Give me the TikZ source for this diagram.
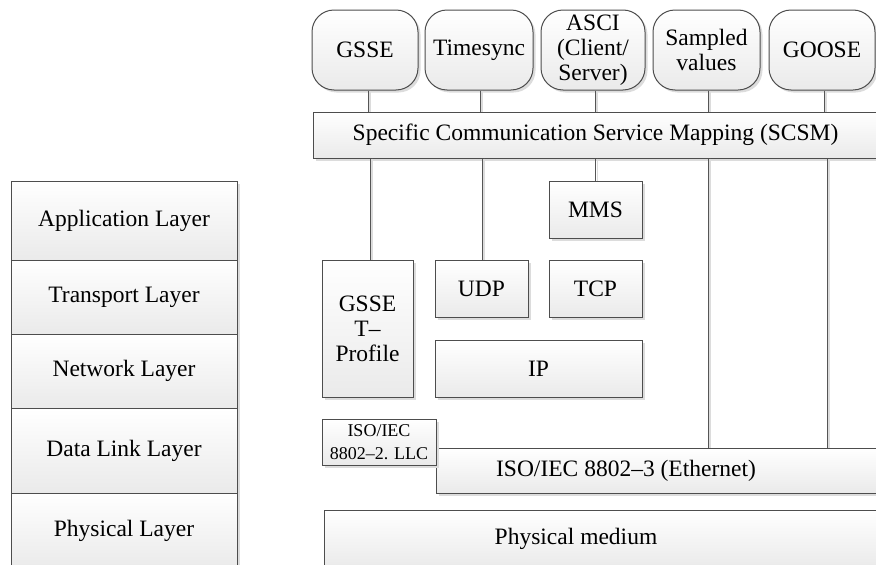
\documentclass[tikz,border=0pt]{standalone}
\usepackage{fontspec}
\setmainfont{Liberation Serif}
\usetikzlibrary{shadows}

\definecolor{linegray}{HTML}{4D4D4D}
\definecolor{linkgray}{HTML}{555555}
\definecolor{fillgray}{HTML}{EAEAEA}
\definecolor{shadowgray}{HTML}{DCDCDC}

\newcommand\txtmain{\fontsize{23.5}{25}\selectfont}
\newcommand\txtsmall{\fontsize{18}{22.5}\selectfont}

\tikzset{
  base/.style={draw=linegray, line width=1pt, top color=white, bottom color=fillgray,
    drop shadow={shadow xshift=2.5pt, shadow yshift=-2.5pt, fill=shadowgray, opacity=1},
    align=center, inner sep=0pt, font=\txtmain},
  svc/.style={base, rounded corners=22pt, minimum height=80pt},
  blk/.style={base},
  layer/.style={base, minimum width=226pt},
  smalltxt/.style={font=\txtsmall},
  conn/.style={draw=linkgray, line width=1pt,
    preaction={draw=shadowgray, line width=1.4pt, transform canvas={xshift=1.8pt}}},
}

\begin{document}
\begin{tikzpicture}[x=1pt, y=-1pt]
  \useasboundingbox (0,0) rectangle (876,565);
  \clip (0,0) rectangle (876,565);

  % OSI reference stack
  \node[layer, minimum height=79pt] (app)  at (124,220.5) {Application Layer};
  \node[layer, minimum height=74pt] (trn)  at (124,297)   {Transport Layer};
  \node[layer, minimum height=74pt] (net)  at (124,371)   {Network Layer};
  \node[layer, minimum height=85pt] (dll)  at (124,450.5) {Data Link Layer};
  \node[layer, minimum height=76pt] (phy)  at (124,531)   {Physical Layer};

  % Services
  \node[svc, minimum width=106pt] (gsse)  at (365,50)   {GSSE};
  \node[svc, minimum width=108pt] (tsync) at (479,50)   {Timesync};
  \node[svc, minimum width=104pt] (asci)  at (593,50)   {ASCI\\(Client/\\Server)};
  \node[svc, minimum width=107pt] (sv)    at (706.5,50) {Sampled\\values};
  \node[svc, minimum width=106pt] (goose) at (822,50)   {GOOSE};

  % Mapping layer
  \node[blk, minimum width=565pt, minimum height=46pt] (scsm) at (595.5,135)
    {Specific Communication Service Mapping (SCSM)};

  % Protocol blocks
  \node[blk, minimum width=93pt, minimum height=57pt]  (mms)  at (595.5,209.5) {MMS};
  \node[blk, minimum width=91pt, minimum height=137pt] (gtp)  at (367.5,328.5) {GSSE\\T--\\Profile};
  \node[blk, minimum width=93pt, minimum height=57pt]  (udp)  at (481.5,288.5) {UDP};
  \node[blk, minimum width=93pt, minimum height=57pt]  (tcp)  at (595.5,288.5) {TCP};
  \node[blk, minimum width=207pt, minimum height=57pt] (ip)   at (538.5,368.5) {IP};

  % Link and physical blocks
  \node[blk, minimum width=454pt, minimum height=45pt,
        label={[font=\txtmain, xshift=-37pt]center:ISO/IEC 8802--3 (Ethernet)}] (eth) at (663,470.5) {};
  \node[blk, smalltxt, minimum width=114pt, minimum height=46pt] (llc) at (379,442) {ISO/IEC\\8802--2. LLC};
  \node[blk, minimum width=566pt, minimum height=58pt,
        label={[font=\txtmain, xshift=-31pt]center:Physical medium}] (med) at (607,539) {};

  % Service to mapping connectors
  \draw[conn] ([xshift=3pt]gsse.south)  -- ([xshift=3pt]gsse.south |- scsm.north);
  \draw[conn] ([xshift=1pt]tsync.south) -- ([xshift=1pt]tsync.south |- scsm.north);
  \draw[conn] ([xshift=2pt]asci.south)  -- ([xshift=2pt]asci.south |- scsm.north);
  \draw[conn] ([xshift=1.5pt]sv.south)  -- ([xshift=1.5pt]sv.south |- scsm.north);
  \draw[conn] ([xshift=2pt]goose.south) -- ([xshift=2pt]goose.south |- scsm.north);

  % Mapping to protocol connectors
  \draw[conn] ([xshift=2.5pt]gtp.north |- scsm.south) -- ([xshift=2.5pt]gtp.north);
  \draw[conn] ([xshift=0.5pt]udp.north |- scsm.south) -- ([xshift=0.5pt]udp.north);
  \draw[conn] (mms.north |- scsm.south) -- (mms.north);
  \draw[conn] ([xshift=1.5pt]sv.south |- scsm.south) -- ([xshift=1.5pt]sv.south |- eth.north);
  \draw[conn] ([xshift=5pt]goose.south |- scsm.south) -- ([xshift=5pt]goose.south |- eth.north);
\end{tikzpicture}
\end{document}
